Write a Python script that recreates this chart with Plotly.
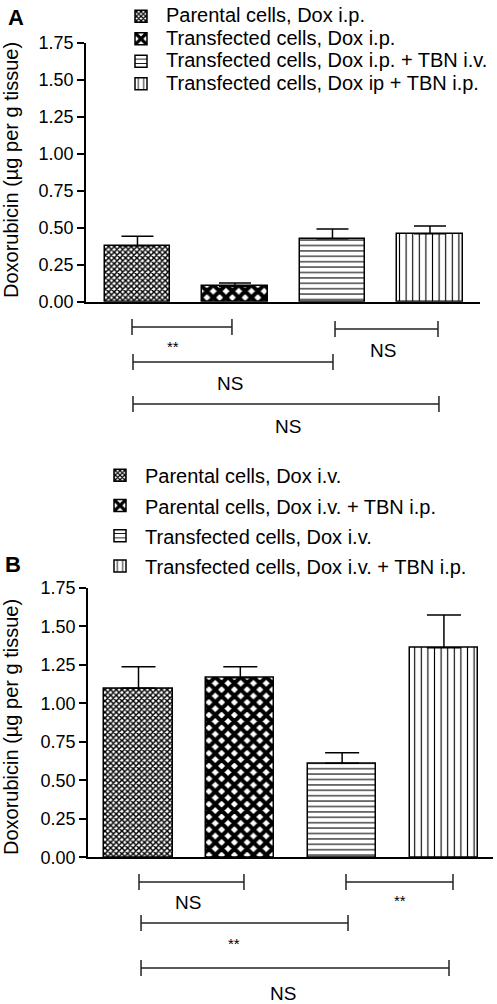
import plotly.graph_objects as go

# ---------------- data ----------------
labels_A = ["Parental cells, Dox i.p.",
            "Transfected cells, Dox i.p.",
            "Transfected cells, Dox i.p. + TBN i.v.",
            "Transfected cells, Dox ip + TBN i.p."]
values_A = [0.378, 0.103, 0.425, 0.459]
errors_A = [0.065, 0.023, 0.067, 0.053]

labels_B = ["Parental cells, Dox i.v.",
            "Parental cells, Dox i.v. + TBN i.p.",
            "Transfected cells, Dox i.v.",
            "Transfected cells, Dox i.v. + TBN i.p."]
values_B = [1.097, 1.166, 0.610, 1.361]
errors_B = [0.141, 0.072, 0.069, 0.212]

# significance comparisons: (from, to, label)
sig_A = [(-0.056, 0.969, "**"), (2.026, 3.082, "NS"),
         (-0.046, 2.005, "NS"), (-0.046, 3.092, "NS")]
sig_B = [(0.005, 1.036, "NS"), (2.038, 3.089, "**"),
         (0.025, 2.058, "**"), (0.025, 3.050, "NS")]

y_ticks = [0.0, 0.25, 0.5, 0.75, 1.0, 1.25, 1.5, 1.75]
y_title = "Doxorubicin (µg per g tissue)"

# ---------------- styles ----------------
W, H = 497, 1004
FONT = "Liberation Sans, Arial, sans-serif"
patterns = [dict(shape="x", size=4, solidity=0.6),
            dict(shape="x", size=9, solidity=0.7),
            dict(shape="-", size=5.4, solidity=0.2),
            dict(shape="|", size=6.6, solidity=0.17)]


def py(p):
    return 1 - p / H


fig = go.Figure()

for panel, (labels, values, errors, xa, ya, leg, cap) in enumerate([
        (labels_A, values_A, errors_A, "x", "y", "legend", 16),
        (labels_B, values_B, errors_B, "x2", "y2", "legend2", 17)]):
    for i in range(4):
        pat = dict(patterns[i])
        pat.update(fgcolor="black", bgcolor="white", fillmode="replace")
        fig.add_trace(go.Bar(
            x=[i], y=[values[i]], width=0.67,
            name='<span style="font-size:20px">' + labels[i] + "</span>",
            xaxis=xa, yaxis=ya, legend=leg,
            marker=dict(color="white", line=dict(color="black", width=1.5),
                        pattern=pat),
            error_y=dict(type="data", array=[errors[i]], arrayminus=[0],
                         symmetric=False, color="black", thickness=1.5,
                         width=cap),
            showlegend=True,
        ))

axis_common = dict(showline=True, linecolor="black", linewidth=1.5,
                   zeroline=False, showgrid=False, automargin=False)
fig.update_layout(
    template="none",
    width=W, height=H, autosize=False,
    margin=dict(l=0, r=0, t=0, b=0, autoexpand=False),
    plot_bgcolor="white", paper_bgcolor="white",
    font=dict(family=FONT, color="black"),
    bargap=0,
    xaxis=dict(domain=[86 / W, 480 / W], range=[-0.528, 3.513],
               showticklabels=False, ticks="", anchor="y", **axis_common),
    yaxis=dict(domain=[py(301.67), py(43)], range=[0, 1.75],
               tickvals=y_ticks, tickformat=".2f", ticks="outside",
               ticklen=7, tickwidth=1.5, tickcolor="black",
               tickfont=dict(size=18), anchor="x", **axis_common),
    xaxis2=dict(domain=[88 / W, 493 / W], range=[-0.496, 3.482],
                showticklabels=False, ticks="", anchor="y2", **axis_common),
    yaxis2=dict(domain=[py(857.3), py(587.8)], range=[0, 1.75],
                tickvals=y_ticks, tickformat=".2f", ticks="outside",
                ticklen=7, tickwidth=1.5, tickcolor="black",
                tickfont=dict(size=18), anchor="x2", **axis_common),
    legend=dict(x=116 / W, y=1.0, xanchor="left", yanchor="top",
                font=dict(size=15), itemwidth=40, bgcolor="rgba(0,0,0,0)",
                traceorder="normal"),
    legend2=dict(x=95 / W, y=py(455), xanchor="left", yanchor="top",
                 font=dict(size=21), itemwidth=40, bgcolor="rgba(0,0,0,0)",
                 traceorder="normal"),
)

shapes = []
annotations = []


def add_brackets(sig, xref, ys, label_pos):
    for (x0, x1, lab), yb, (lx, ly) in zip(sig, ys, label_pos):
        line = dict(color="#222", width=1.5)
        shapes.append(dict(type="line", xref=xref, yref="paper",
                           x0=x0, x1=x1, y0=py(yb), y1=py(yb), line=line))
        for xx in (x0, x1):
            shapes.append(dict(type="line", xref=xref, yref="paper",
                               x0=xx, x1=xx, y0=py(yb - 8), y1=py(yb + 8),
                               line=line))
        size = 15 if lab == "**" else 19
        annotations.append(dict(text=lab, xref=xref, yref="paper", x=lx,
                                y=py(ly), showarrow=False,
                                font=dict(size=size, family=FONT),
                                xanchor="center", yanchor="middle"))


add_brackets(sig_A, "x", [327, 329, 362, 404],
             [(0.364, 346), (2.518, 350), (0.949, 383), (1.544, 426)])
add_brackets(sig_B, "x2", [882, 882, 923, 968],
             [(0.486, 902), (2.569, 900), (0.938, 943), (1.419, 993)])

annotations += [
    dict(text="<b>A</b>", xref="paper", yref="paper", x=16 / W, y=py(18),
         showarrow=False, font=dict(size=22, family=FONT),
         xanchor="center", yanchor="middle"),
    dict(text="<b>B</b>", xref="paper", yref="paper", x=13 / W, y=py(564),
         showarrow=False, font=dict(size=22, family=FONT),
         xanchor="center", yanchor="middle"),
    dict(text=y_title, xref="paper", yref="paper", x=11 / W, y=py(170),
         textangle=-90, showarrow=False, font=dict(size=20, family=FONT),
         xanchor="center", yanchor="middle"),
    dict(text=y_title, xref="paper", yref="paper", x=11 / W, y=py(727),
         textangle=-90, showarrow=False, font=dict(size=20, family=FONT),
         xanchor="center", yanchor="middle"),
]

fig.update_layout(shapes=shapes, annotations=annotations)
fig.write_html("out.html",
               config={"displayModeBar": False},
               post_script="document.body.style.margin='0px';"
                           "document.body.style.overflow='hidden';")
